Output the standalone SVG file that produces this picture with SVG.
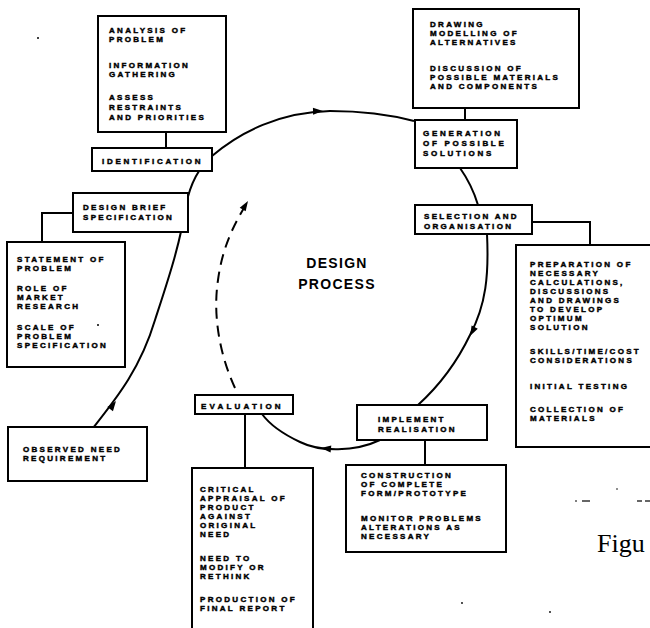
<svg xmlns="http://www.w3.org/2000/svg" width="650" height="628" viewBox="0 0 650 628">
<defs>
<style>
.bx{fill:#fff;stroke:#000;stroke-width:2}
.t{font-family:"Liberation Sans",Arial,sans-serif;font-weight:bold;font-size:8px;letter-spacing:2.3px;fill:#000;stroke:#000;stroke-width:0.45px}
.c{fill:none;stroke:#000;stroke-width:2}
.d{fill:none;stroke:#000;stroke-width:2;stroke-dasharray:11 7}
.ah{fill:#000}
</style>
</defs>
<rect width="650" height="628" fill="#fff"/>
<g id="connectors">
<path class="c" d="M 93 428 C 115 400, 140 370, 155 320 C 168 280, 180 245, 186 205 C 190 185, 198 168, 212 156 C 240 132, 280 112, 330 111 C 370 111, 395 116, 414 121"/>
<path class="c" d="M 460 168 Q 472 185 478 205"/>
<path class="c" d="M 487 234 C 489 275, 486 305, 470 335 C 458 360, 440 385, 418 405"/>
<path class="c" d="M 380 440 C 355 452, 320 452, 300 442 C 283 434, 270 425, 262 414"/>
<path class="d" d="M 235 388 C 222 360, 212 320, 218 280 C 222 250, 232 228, 244 208"/>
<polygon class="ah" points="0,0 -10,-3.5 -10,3.5" transform="translate(116,401) rotate(-54)"/>
<polygon class="ah" points="0,0 -10,-3.5 -10,3.5" transform="translate(323,111) rotate(-1)"/>
<polygon class="ah" points="0,0 -10,-3.5 -10,3.5" transform="translate(470,336) rotate(118)"/>
<polygon class="ah" points="0,0 -10,-3.5 -10,3.5" transform="translate(321,448) rotate(186)"/>
<polygon class="ah" points="0,0 -10,-3.5 -10,3.5" transform="translate(248,201) rotate(-58)"/>
<line class="c" x1="166" y1="132" x2="166" y2="148"/>
<line class="c" x1="465" y1="108" x2="465" y2="120"/>
<polyline class="c" points="532,222 590,222 590,245"/>
<polyline class="c" points="73,213 42,213 42,242"/>
<line class="c" x1="245" y1="414" x2="245" y2="468"/>
<line class="c" x1="425" y1="440" x2="425" y2="465"/>
</g>
<g id="identification-detail">
<rect class="bx" x="98" y="16" width="128" height="116"/>
<text class="t"><tspan x="109" y="33">ANALYSIS OF</tspan><tspan x="109" y="42">PROBLEM</tspan><tspan x="109" y="68">INFORMATION</tspan><tspan x="109" y="77">GATHERING</tspan><tspan x="109" y="100">ASSESS</tspan><tspan x="109" y="110">RESTRAINTS</tspan><tspan x="109" y="120">AND PRIORITIES</tspan></text>
</g>
<g id="identification">
<rect class="bx" x="92" y="148" width="120" height="23"/>
<text class="t" x="102" y="163.5" style="letter-spacing:2.7px">IDENTIFICATION</text>
</g>
<g id="generation-detail">
<rect class="bx" x="413" y="9" width="166" height="99"/>
<text class="t"><tspan x="430" y="27">DRAWING</tspan><tspan x="430" y="36">MODELLING OF</tspan><tspan x="430" y="45">ALTERNATIVES</tspan><tspan x="430" y="71">DISCUSSION OF</tspan><tspan x="430" y="80">POSSIBLE MATERIALS</tspan><tspan x="430" y="89">AND COMPONENTS</tspan></text>
</g>
<g id="generation">
<rect class="bx" x="415" y="120" width="102" height="48"/>
<text class="t" style="letter-spacing:2.7px"><tspan x="423" y="136">GENERATION</tspan><tspan x="423" y="146">OF POSSIBLE</tspan><tspan x="423" y="156">SOLUTIONS</tspan></text>
</g>
<g id="selection">
<rect class="bx" x="415" y="205" width="117" height="29"/>
<text class="t"><tspan x="424" y="219">SELECTION AND</tspan><tspan x="424" y="229">ORGANISATION</tspan></text>
</g>
<g id="selection-detail">
<rect class="bx" x="516" y="245" width="200" height="202"/>
<text class="t"><tspan x="530" y="267">PREPARATION OF</tspan><tspan x="530" y="276">NECESSARY</tspan><tspan x="530" y="285">CALCULATIONS,</tspan><tspan x="530" y="294">DISCUSSIONS</tspan><tspan x="530" y="303">AND DRAWINGS</tspan><tspan x="530" y="312">TO DEVELOP</tspan><tspan x="530" y="321">OPTIMUM</tspan><tspan x="530" y="330">SOLUTION</tspan><tspan x="530" y="354">SKILLS/TIME/COST</tspan><tspan x="530" y="363">CONSIDERATIONS</tspan><tspan x="530" y="389">INITIAL TESTING</tspan><tspan x="530" y="412">COLLECTION OF</tspan><tspan x="530" y="421">MATERIALS</tspan></text>
</g>
<g id="design-brief">
<rect class="bx" x="73" y="193" width="115" height="39"/>
<text class="t"><tspan x="83" y="210">DESIGN BRIEF</tspan><tspan x="83" y="220">SPECIFICATION</tspan></text>
</g>
<g id="design-brief-detail">
<rect class="bx" x="7" y="242" width="118" height="125"/>
<text class="t"><tspan x="17" y="262">STATEMENT OF</tspan><tspan x="17" y="271">PROBLEM</tspan><tspan x="17" y="291">ROLE OF</tspan><tspan x="17" y="300">MARKET</tspan><tspan x="17" y="309">RESEARCH</tspan><tspan x="17" y="330">SCALE OF</tspan><tspan x="17" y="339">PROBLEM</tspan><tspan x="17" y="348">SPECIFICATION</tspan></text>
</g>
<g id="observed-need">
<rect class="bx" x="8" y="427" width="139" height="54"/>
<text class="t"><tspan x="23" y="452">OBSERVED NEED</tspan><tspan x="23" y="461">REQUIREMENT</tspan></text>
</g>
<g id="evaluation">
<rect class="bx" x="195" y="395" width="98" height="19"/>
<text class="t" x="201" y="408.5" style="letter-spacing:3.2px">EVALUATION</text>
</g>
<g id="evaluation-detail">
<rect class="bx" x="192" y="468" width="121" height="170"/>
<text class="t"><tspan x="200" y="492">CRITICAL</tspan><tspan x="200" y="501">APPRAISAL OF</tspan><tspan x="200" y="510">PRODUCT</tspan><tspan x="200" y="519">AGAINST</tspan><tspan x="200" y="528">ORIGINAL</tspan><tspan x="200" y="537">NEED</tspan><tspan x="200" y="561">NEED TO</tspan><tspan x="200" y="570">MODIFY OR</tspan><tspan x="200" y="579">RETHINK</tspan><tspan x="200" y="602">PRODUCTION OF</tspan><tspan x="200" y="611">FINAL REPORT</tspan></text>
</g>
<g id="implement">
<rect class="bx" x="357" y="405" width="130" height="35"/>
<text class="t"><tspan x="378" y="422">IMPLEMENT</tspan><tspan x="378" y="432">REALISATION</tspan></text>
</g>
<g id="implement-detail">
<rect class="bx" x="346" y="465" width="160" height="87"/>
<text class="t"><tspan x="361" y="478">CONSTRUCTION</tspan><tspan x="361" y="487">OF COMPLETE</tspan><tspan x="361" y="496">FORM/PROTOTYPE</tspan><tspan x="361" y="521">MONITOR PROBLEMS</tspan><tspan x="361" y="530">ALTERATIONS AS</tspan><tspan x="361" y="539">NECESSARY</tspan></text>
</g>
<g id="center-label">
<text font-family="'Liberation Sans',Arial,sans-serif" font-weight="bold" font-size="14" letter-spacing="1.3" text-anchor="middle"><tspan x="337" y="268">DESIGN</tspan><tspan x="337" y="289">PROCESS</tspan></text>
</g>
<g id="caption">
<text x="597" y="552" font-family="'Liberation Serif','Times New Roman',serif" font-size="26">Figu</text>
<line x1="575" y1="501" x2="577" y2="501" stroke="#000" stroke-width="1.2"/>
<line x1="582" y1="501" x2="590" y2="501" stroke="#000" stroke-width="1.2"/>
<circle cx="617" cy="489" r="0.8" fill="#000"/>
<line x1="637" y1="501" x2="642" y2="501" stroke="#000" stroke-width="1.2"/>
<line x1="645" y1="501" x2="650" y2="501" stroke="#000" stroke-width="1.2"/>
</g>
<g id="specks" fill="#000">
<circle cx="38" cy="38" r="1"/>
<circle cx="98" cy="325" r="1"/>
<circle cx="462" cy="603" r="0.9"/>
<circle cx="550" cy="612" r="0.9"/>
</g>
</svg>
